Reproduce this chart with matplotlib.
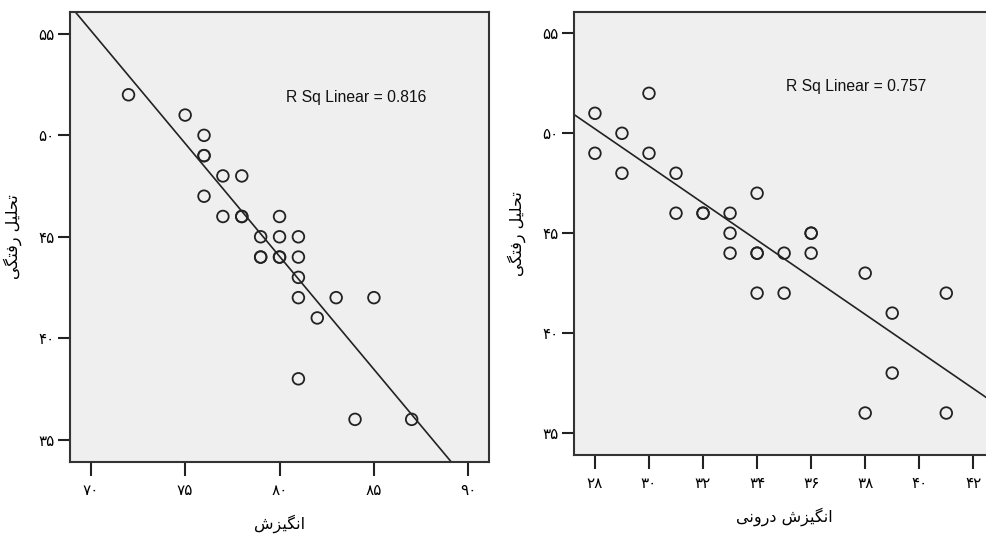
import numpy as np
import matplotlib
matplotlib.use("Agg")
import matplotlib.pyplot as plt

# ---------------- data ----------------
left_x = [72, 75, 76, 76, 76, 77, 78, 76, 77, 78, 78, 80, 79, 80, 81, 79, 79,
          80, 80, 81, 81, 81, 83, 85, 82, 81, 84, 87]
left_y = [52, 51, 50, 49, 49, 48, 48, 47, 46, 46, 46, 46, 45, 45, 45, 44, 44,
          44, 44, 44, 43, 42, 42, 42, 41, 38, 36, 36]
right_x = [28, 28, 29, 29, 30, 30, 31, 31, 32, 32, 33, 33, 33, 34, 34, 34, 35,
           36, 36, 36, 38, 34, 35, 41, 39, 39, 38, 41]
right_y = [51, 49, 50, 48, 52, 49, 48, 46, 46, 46, 46, 45, 44, 47, 44, 44, 44,
           45, 45, 44, 43, 42, 42, 42, 41, 38, 36, 36]

y_ticks = [35, 40, 45, 50, 55]
left_xticks = [70, 75, 80, 85, 90]
right_xticks = [28, 30, 32, 34, 36, 38, 40, 42]
left_r2 = "R Sq Linear = 0.816"
right_r2 = "R Sq Linear = 0.757"
y_label = "تحلیل رفتگی"
left_xlabel = "انگیزش"
right_xlabel = "انگیزش درونی"

# ---------------- Persian helpers ----------------
FA_DIGITS = "۰۱۲۳۴۵۶۷۸۹"


def fa_num(n):
    return "".join(FA_DIGITS[int(c)] for c in str(n))


# (isolated, final, initial, medial) ; None for right-joining letters
FORMS = {
    "ا": ("\uFE8D", "\uFE8E", None, None),
    "د": ("\uFEA9", "\uFEAA", None, None),
    "ر": ("\uFEAD", "\uFEAE", None, None),
    "ز": ("\uFEAF", "\uFEB0", None, None),
    "و": ("\uFEED", "\uFEEE", None, None),
    "ن": ("\uFEE5", "\uFEE6", "\uFEE7", "\uFEE8"),
    "گ": ("\uFB92", "\uFB93", "\uFB94", "\uFB95"),
    "ی": ("\uFBFC", "\uFBFD", "\uFBFE", "\uFBFF"),
    "ش": ("\uFEB5", "\uFEB6", "\uFEB7", "\uFEB8"),
    "ت": ("\uFE95", "\uFE96", "\uFE97", "\uFE98"),
    "ح": ("\uFEA1", "\uFEA2", "\uFEA3", "\uFEA4"),
    "ل": ("\uFEDD", "\uFEDE", "\uFEDF", "\uFEE0"),
    "ف": ("\uFED1", "\uFED2", "\uFED3", "\uFED4"),
}


def dual(c):
    return c in FORMS and FORMS[c][2] is not None


def shape(s):
    out = []
    for i, c in enumerate(s):
        if c not in FORMS:
            out.append(c)
            continue
        prev = s[i - 1] if i > 0 else None
        nxt = s[i + 1] if i + 1 < len(s) else None
        jp = prev is not None and dual(prev)
        jn = nxt is not None and nxt in FORMS and dual(c)
        iso, fin, ini, med = FORMS[c]
        if jp and jn:
            out.append(med)
        elif jp:
            out.append(fin)
        elif jn:
            out.append(ini)
        else:
            out.append(iso)
    return "".join(reversed(out))


# ---------------- figure ----------------
plt.rcParams['font.family'] = ['DejaVu Sans']
fig = plt.figure(figsize=(9.86, 5.38), dpi=100)
fig.patch.set_facecolor("white")

ax1 = fig.add_axes([0.071, 0.1413, 0.425, 0.8364])
ax2 = fig.add_axes([0.582, 0.1543, 0.4265, 0.8234])

BG = "#efefef"
INK = "#222222"


def style(ax, xs, ys, xticks, xlim, ylim, xlabel, r2, r2pos, xlpad):
    ax.set_facecolor(BG)
    ax.scatter(xs, ys, s=70, facecolors="none", edgecolors=INK,
               linewidths=1.3, zorder=3)
    a, b = np.polyfit(xs, ys, 1)
    lx = np.array(xlim)
    ax.plot(lx, a * lx + b, color=INK, lw=1.2, zorder=2)
    ax.set_xlim(*xlim)
    ax.set_ylim(*ylim)
    ax.set_xticks(xticks)
    ax.set_xticklabels([fa_num(t) for t in xticks], fontsize=11)
    ax.set_yticks(y_ticks)
    ax.set_yticklabels([fa_num(t) for t in y_ticks], fontsize=11)
    ax.tick_params(axis="x", length=10, width=1.5, color=INK, pad=5)
    ax.tick_params(axis="y", length=9, width=1.5, color=INK, pad=2)
    for sp in ax.spines.values():
        sp.set_linewidth(1.5)
        sp.set_color("#333333")
    ax.set_xlabel(shape(xlabel), fontsize=11.5, labelpad=xlpad)
    ax.set_ylabel(shape(y_label), fontsize=11.5, labelpad=12)
    ax.text(r2pos[0], r2pos[1], r2, fontsize=11.3, family="Liberation Sans",
            va="center", ha="left", color="#111111")


style(ax1, left_x, left_y, left_xticks, (68.9, 91.1), (33.9, 56.08),
      left_xlabel, left_r2, (80.35, 51.85), 12)
style(ax2, right_x, right_y, right_xticks, (27.22, 42.78), (33.9, 56.07),
      right_xlabel, right_r2, (35.07, 52.33), 12)

fig.savefig("out.png", dpi=100)
